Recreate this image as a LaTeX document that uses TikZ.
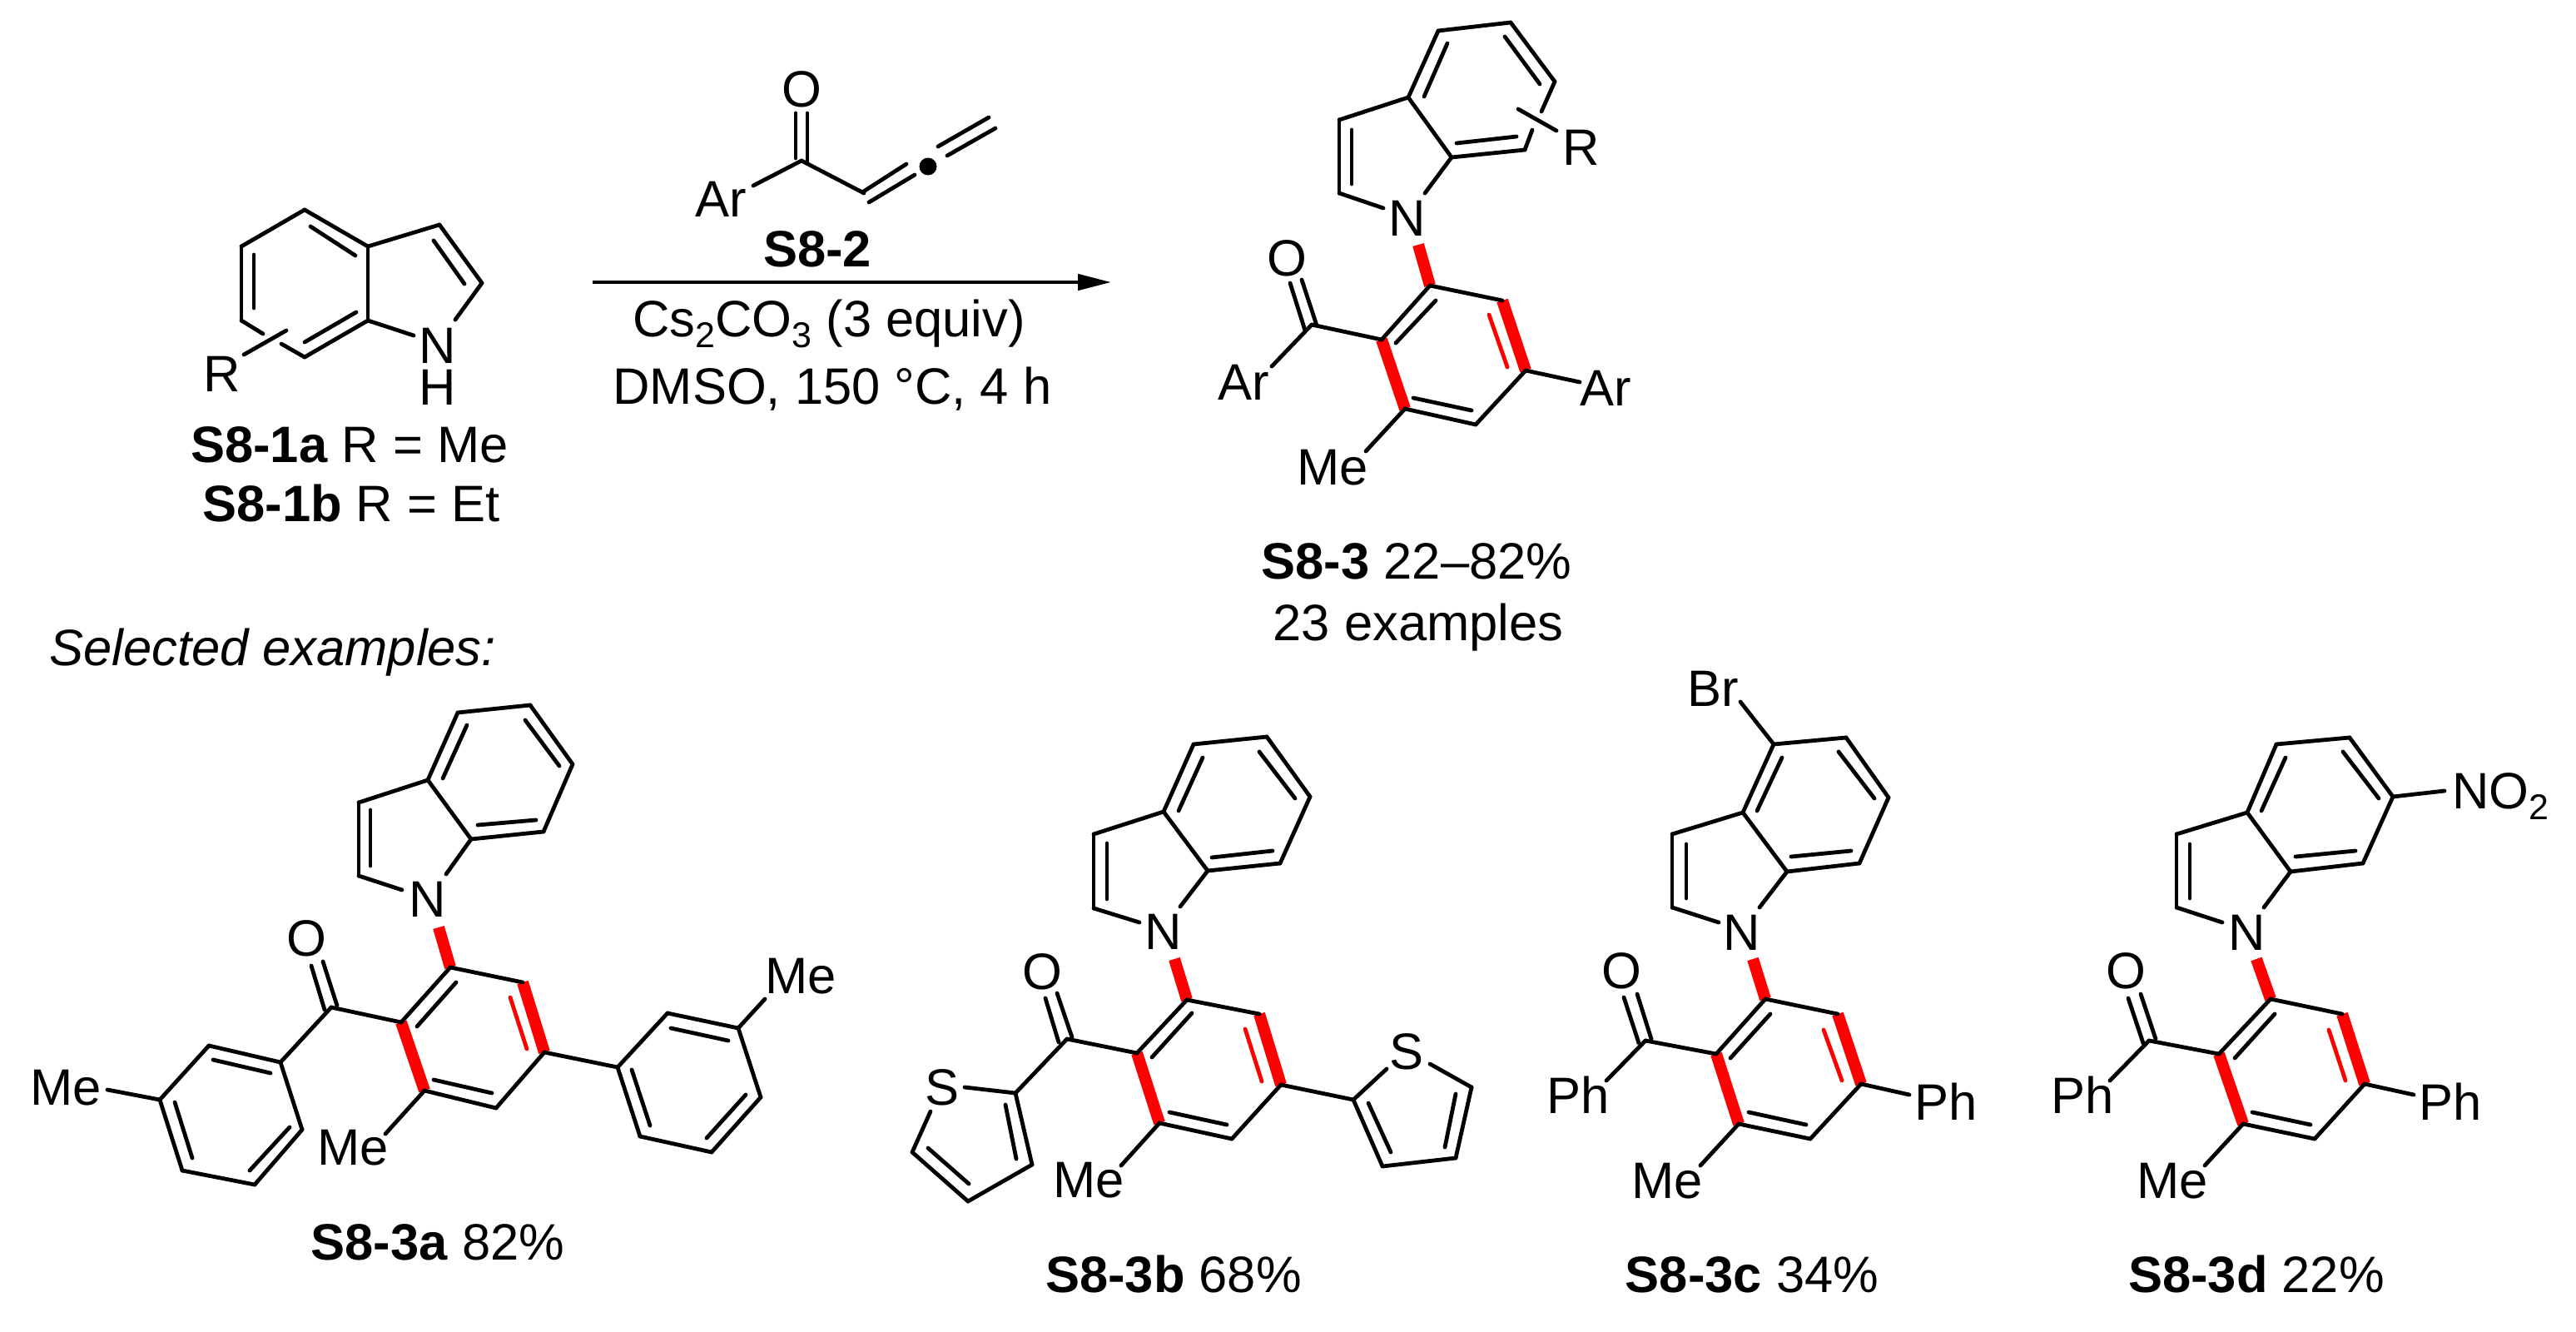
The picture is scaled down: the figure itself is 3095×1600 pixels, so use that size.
\documentclass[tikz,border=0pt]{standalone}
\usepackage{fontspec}
\setmainfont{Liberation Sans}
\usetikzlibrary{arrows.meta}
\tikzset{
  bond/.style={line width=4.8pt,line cap=round,black},
  redthick/.style={line width=14pt,red,line cap=butt},
  redthin/.style={line width=4.8pt,red,line cap=round},
  lbl/.style={inner sep=0pt,anchor=base,font=\fontsize{61.5}{72}\selectfont},
  lblw/.style={lbl,anchor=base west},
  rxn/.style={line width=4.5pt,-{Triangle[length=40pt,width=19pt]}},
  dotnode/.style={circle,fill=black,minimum size=21pt,inner sep=0pt}
}
\newcommand\Sb[1]{\raisebox{-13pt}{\fontsize{43}{43}\selectfont #1}}
\newcommand\Pts[1]{\foreach \n/\x/\y in {#1} \coordinate (\n) at (\x,\y);}
\newcommand\Bonds[1]{\foreach \a/\b in {#1} \draw[bond] (\a) -- (\b);}
\newcommand\Core[1]{%
  \foreach \a/\b in {#1Rn/#1P,#1Q/#1V,#1T/#1U} \draw[redthick] (\a) -- (\b);
  \draw[redthin] (#1ts) -- (#1te);
  \Bonds{#1F/#1A,#1A/#1B,#1B/#1C,#1D/#1E,#1E/#1F,#1F/#1G,#1G/#1H,#1H/#1Ng,#1E/#1Ne,
    #1P/#1Q,#1V/#1S,#1S/#1T,#1U/#1P,#1K/#1U,#1K/#1KL,#1V/#1VR,#1T/#1TM,
    #1ia/#1ib,#1ic/#1id,#1ie/#1if,#1ig/#1ih,#1ii/#1ij,#1ik/#1il,
    #1Oa/#1Ob,#1Oc/#1Od}%
}
\begin{document}
\begin{tikzpicture}[x=1pt,y=-1pt]
\useasboundingbox (0,0) rectangle (3095,1600);

% ---------- S8-1 indole
\Pts{sA/366/252,sB/290/296,sC/290/385,sD/366/429,sE/442/385,sF/442/296,sG/528/270,sH/579/340,
  sNe/497/403,sNh/547/384,si1/373/272,si2/427/307,si3/305/306,si4/305/370,si5/366/411,si6/428/375,
  si7/521/289,si8/558/341,sRa/293/426,sRb/344/397,sG1/316/401,sG2/338/413}
\Bonds{sA/sB,sB/sC,sC/sG1,sG2/sD,sD/sE,sE/sF,sF/sA,sF/sG,sG/sH,sH/sNh,sE/sNe,si1/si2,si3/si4,si5/si6,si7/si8,sRa/sRb}
\node[lbl] (sN) at (526,436) {N};
\node[lbl] (sHa) at (526,486) {H};
\node[lbl] (sR) at (267,470) {R};
\node[lbl] (sLa) at (420,555) {\textbf{S8-1a} R = Me};
\node[lbl] (sLb) at (422,626) {\textbf{S8-1b} R = Et};

% ---------- S8-2 allenyl ketone
\Pts{kC/963/193,kOa/956/136,kOb/956/190,kOc/970/136,kOd/970/194,kAr/905/223,kCa/1038/232,
  kd1/1036/231,kd2/1089/197,kd3/1044/243,kd4/1099/210,kt1/1127/176,kt2/1188/141,kt3/1138/187,kt4/1196/154}
\Bonds{kOa/kOb,kOc/kOd,kC/kAr,kC/kCa,kd1/kd2,kd3/kd4,kt1/kt2,kt3/kt4}
\node[dotnode] (kDot) at (1115,200) {};
\node[lbl] (kO) at (963,129) {O};
\node[lbl] (kArL) at (866,260) {Ar};
\node[lbl] (kL) at (982,320) {\textbf{S8-2}};

% ---------- arrow and conditions
\coordinate (arrS) at (712,339);
\coordinate (arrE) at (1335,339);
\draw[rxn] (arrS) -- (arrE);
\node[lbl] (cond1) at (996,404) {Cs\Sb{2}CO\Sb{3} (3 equiv)};
\node[lbl] (cond2) at (1000,485) {DMSO, 150 °C, 4 h};

% ---------- S8-3 general product
\Pts{pA/1728/37,pB/1815/27,pC/1868/98,pD/1832/180,pE/1744/189,pF/1692/117,pG/1609/144,pH/1609/232,
  pNg/1662/250,pNe/1712/232,pia/1711/116,pib/1739/52,pic/1808/44,pid/1850/101,pie/1750/172,pif/1822/164,
  pig/1624/156,pih/1624/221,pP/1718/343,pQ/1805/361,pV/1833/445,pS/1773/510,pT/1688/491,pU/1660/408,
  pRn/1704/294,pts/1789/378,pte/1811/441,pii/1725/361,pij/1677/412,pik/1698/478,pil/1768/493,
  pK/1576/390,pOa/1550/340,pOb/1568/397,pOc/1564/336,pOd/1582/391,pKL/1528/440,pVR/1898/459,pTM/1641/542,
  pRa/1824/131,pRb/1870/157,pG1/1852/134,pG2/1841/156}
\Core{p}
\Bonds{pC/pG1,pG2/pD,pRa/pRb}
\node[lbl] (pN) at (1691,283) {N};
\node[lbl] (pR) at (1900,198) {R};
\node[lbl] (pO) at (1546,331) {O};
\node[lbl] (pAr1) at (1494,480) {Ar};
\node[lbl] (pAr2) at (1929,487) {Ar};
\node[lbl] (pMe) at (1601,582) {Me};
\node[lbl] (pL1) at (1702,695) {\textbf{S8-3} 22–82\%};
\node[lbl] (pL2) at (1704,769) {23 examples};

\node[lblw] (sel) at (59,799) {\itshape Selected examples:};

% ---------- S8-3a
\Pts{aA/550/856,aB/637/847,aC/688/918,aD/653/999,aE/566/1008,aF/514/937,aG/431/964,aH/431/1052,
  aNg/483/1069,aNe/536/1050,aia/532/935,aib/561/871,aic/631/865,aid/672/920,aie/574/991,aif/644/985,
  aig/445/973,aih/445/1040,aP/541/1162,aQ/628/1180,aV/654/1264,aS/596/1331,aT/510/1310,aU/482/1228,
  aRn/527/1114,ats/613/1198,ate/633/1260,aii/548/1180,aij/501/1233,aik/521/1297,ail/591/1313,
  aK/398/1210,aOa/374/1160,aOb/390/1213,aOc/388/1155,aOd/405/1208,aKL/337/1276,aVR/742/1282,aTM/463/1362,
  a2/251/1256,a3/192/1321,a4/219/1406,a5/306/1423,a6/363/1357,ax1/256/1273,ax2/325/1289,ax3/210/1324,ax4/231/1391,
  ax5/300/1406,ax6/348/1354,aMl/129/1309,
  b2x/802/1217,b3x/887/1235,b4x/914/1318,b5x/855/1384,b6x/769/1365,ay1/806/1235,ay2/875/1250,ay3/759/1285,ay4/781/1352,
  ay5/896/1315,ay6/849/1367,aMr/919/1200}
\Core{a}
\Bonds{aC/aD,aKL/a2,a2/a3,a3/a4,a4/a5,a5/a6,a6/aKL,ax1/ax2,ax3/ax4,ax5/ax6,a3/aMl,
  aVR/b2x,b2x/b3x,b3x/b4x,b4x/b5x,b5x/b6x,b6x/aVR,ay1/ay2,ay3/ay4,ay5/ay6,b3x/aMr}
\node[lbl] (aN) at (514,1101) {N};
\node[lbl] (aO) at (368,1148) {O};
\node[lbl] (aMe1) at (79,1327) {Me};
\node[lbl] (aMe2) at (424,1399) {Me};
\node[lbl] (aMe3) at (962,1193) {Me};
\node[lbl] (aL) at (526,1513) {\textbf{S8-3a} 82\%};

% ---------- S8-3b
\Pts{bA/1434/894,bB/1522/885,bC/1574/957,bD/1538/1037,bE/1451/1046,bF/1398/975,bG/1314/1002,bH/1314/1091,
  bNg/1369/1108,bNe/1418/1089,bia/1416/974,bib/1445/910,bic/1513/903,bid/1556/959,bie/1456/1030,bif/1529/1022,
  big/1330/1013,bih/1330/1080,bP/1426/1201,bQ/1513/1218,bV/1539/1303,bS/1480/1368,bT/1393/1349,bU/1366/1265,
  bRn/1411/1152,bts/1496/1236,bte/1516/1299,bii/1432/1217,bij/1384/1270,bik/1405/1336,bil/1474/1351,
  bK/1282/1248,bOa/1256/1199,bOb/1272/1252,bOc/1270/1193,bOd/1288/1246,bKL/1220/1313,bVR/1626/1321,bTM/1347/1400,
  tS1/1159/1306,t2/1240/1399,t3/1163/1443,t4/1096/1384,tS2/1118/1335,tx1/1208/1327,tx2/1221/1392,tx3/1164/1422,tx4/1115/1379,
  rS1/1666/1284,rS2/1718/1278,r4/1768/1306,r3/1749/1391,r2/1661/1401,rx1/1749/1314,rx2/1736/1378,rx3/1644/1325,rx4/1671/1384}
\Core{b}
\Bonds{bC/bD,bKL/tS1,bKL/t2,t2/t3,t3/t4,t4/tS2,tx1/tx2,tx3/tx4,
  bVR/rS1,rS2/r4,r4/r3,r3/r2,r2/bVR,rx1/rx2,rx3/rx4}
\node[lbl] (bN) at (1398,1140) {N};
\node[lbl] (bO) at (1252,1188) {O};
\node[lbl] (bS1) at (1132,1327) {S};
\node[lbl] (bS2) at (1690,1284) {S};
\node[lbl] (bMe) at (1308,1438) {Me};
\node[lbl] (bL) at (1410,1552) {\textbf{S8-3b} 68\%};

% ---------- S8-3c
\Pts{cA/2131/894,cB/2218/886,cC/2269/958,cD/2234/1037,cE/2147/1047,cF/2094/976,cG/2009/1002,cH/2009/1090,
  cNg/2065/1108,cNe/2114/1090,cia/2111/974,cib/2141/910,cic/2209/903,cid/2252/959,cie/2152/1029,cif/2224/1022,
  cig/2026/1014,cih/2026/1079,cP/2121/1200,cQ/2208/1218,cV/2236/1302,cS/2175/1368,cT/2089/1350,cU/2062/1266,
  cRn/2106/1152,cts/2191/1237,cte/2213/1298,cii/2127/1218,cij/2079/1271,cik/2101/1336,cil/2170/1351,
  cK/1977/1250,cOa/1951/1198,cOb/1969/1253,cOc/1967/1194,cOd/1984/1248,cKL/1930/1298,cVR/2294/1315,cTM/2043/1400,
  cBr/2091/843}
\Core{c}
\Bonds{cC/cD,cA/cBr}
\node[lbl] (cN) at (2093,1141) {N};
\node[lbl] (cO) at (1948,1187) {O};
\node[lbl] (cBrL) at (2058,848) {Br};
\node[lbl] (cPh1) at (1896,1337) {Ph};
\node[lbl] (cPh2) at (2338,1345) {Ph};
\node[lbl] (cMe) at (2003,1439) {Me};
\node[lbl] (cL) at (2105,1552) {\textbf{S8-3c} 34\%};

% ---------- S8-3d
\Pts{dA/2735/894,dB/2823/886,dC/2875/957,dD/2839/1037,dE/2752/1047,dF/2700/976,dG/2615/1002,dH/2615/1090,
  dNg/2670/1108,dNe/2720/1090,dia/2717/974,dib/2746/910,dic/2815/903,did/2858/959,die/2758/1029,dif/2830/1022,
  dig/2631/1014,dih/2631/1079,dP/2728/1200,dQ/2814/1218,dV/2841/1302,dS/2781/1368,dT/2695/1350,dU/2666/1266,
  dRn/2711/1152,dts/2798/1237,dte/2818/1298,dii/2733/1218,dij/2685/1271,dik/2706/1336,dil/2776/1351,
  dK/2582/1250,dOa/2557/1199,dOb/2575/1253,dOc/2572/1194,dOd/2590/1248,dKL/2535/1298,dVR/2900/1315,dTM/2649/1400,
  dNO/2937/950}
\Core{d}
\Bonds{dC/dD,dC/dNO}
\node[lbl] (dN) at (2700,1141) {N};
\node[lbl] (dO) at (2554,1187) {O};
\node[lblw] (dNOl) at (2946,971) {NO\Sb{2}};
\node[lbl] (dPh1) at (2502,1337) {Ph};
\node[lbl] (dPh2) at (2944,1345) {Ph};
\node[lbl] (dMe) at (2610,1439) {Me};
\node[lbl] (dL) at (2711,1552) {\textbf{S8-3d} 22\%};
\end{tikzpicture}
\end{document}
